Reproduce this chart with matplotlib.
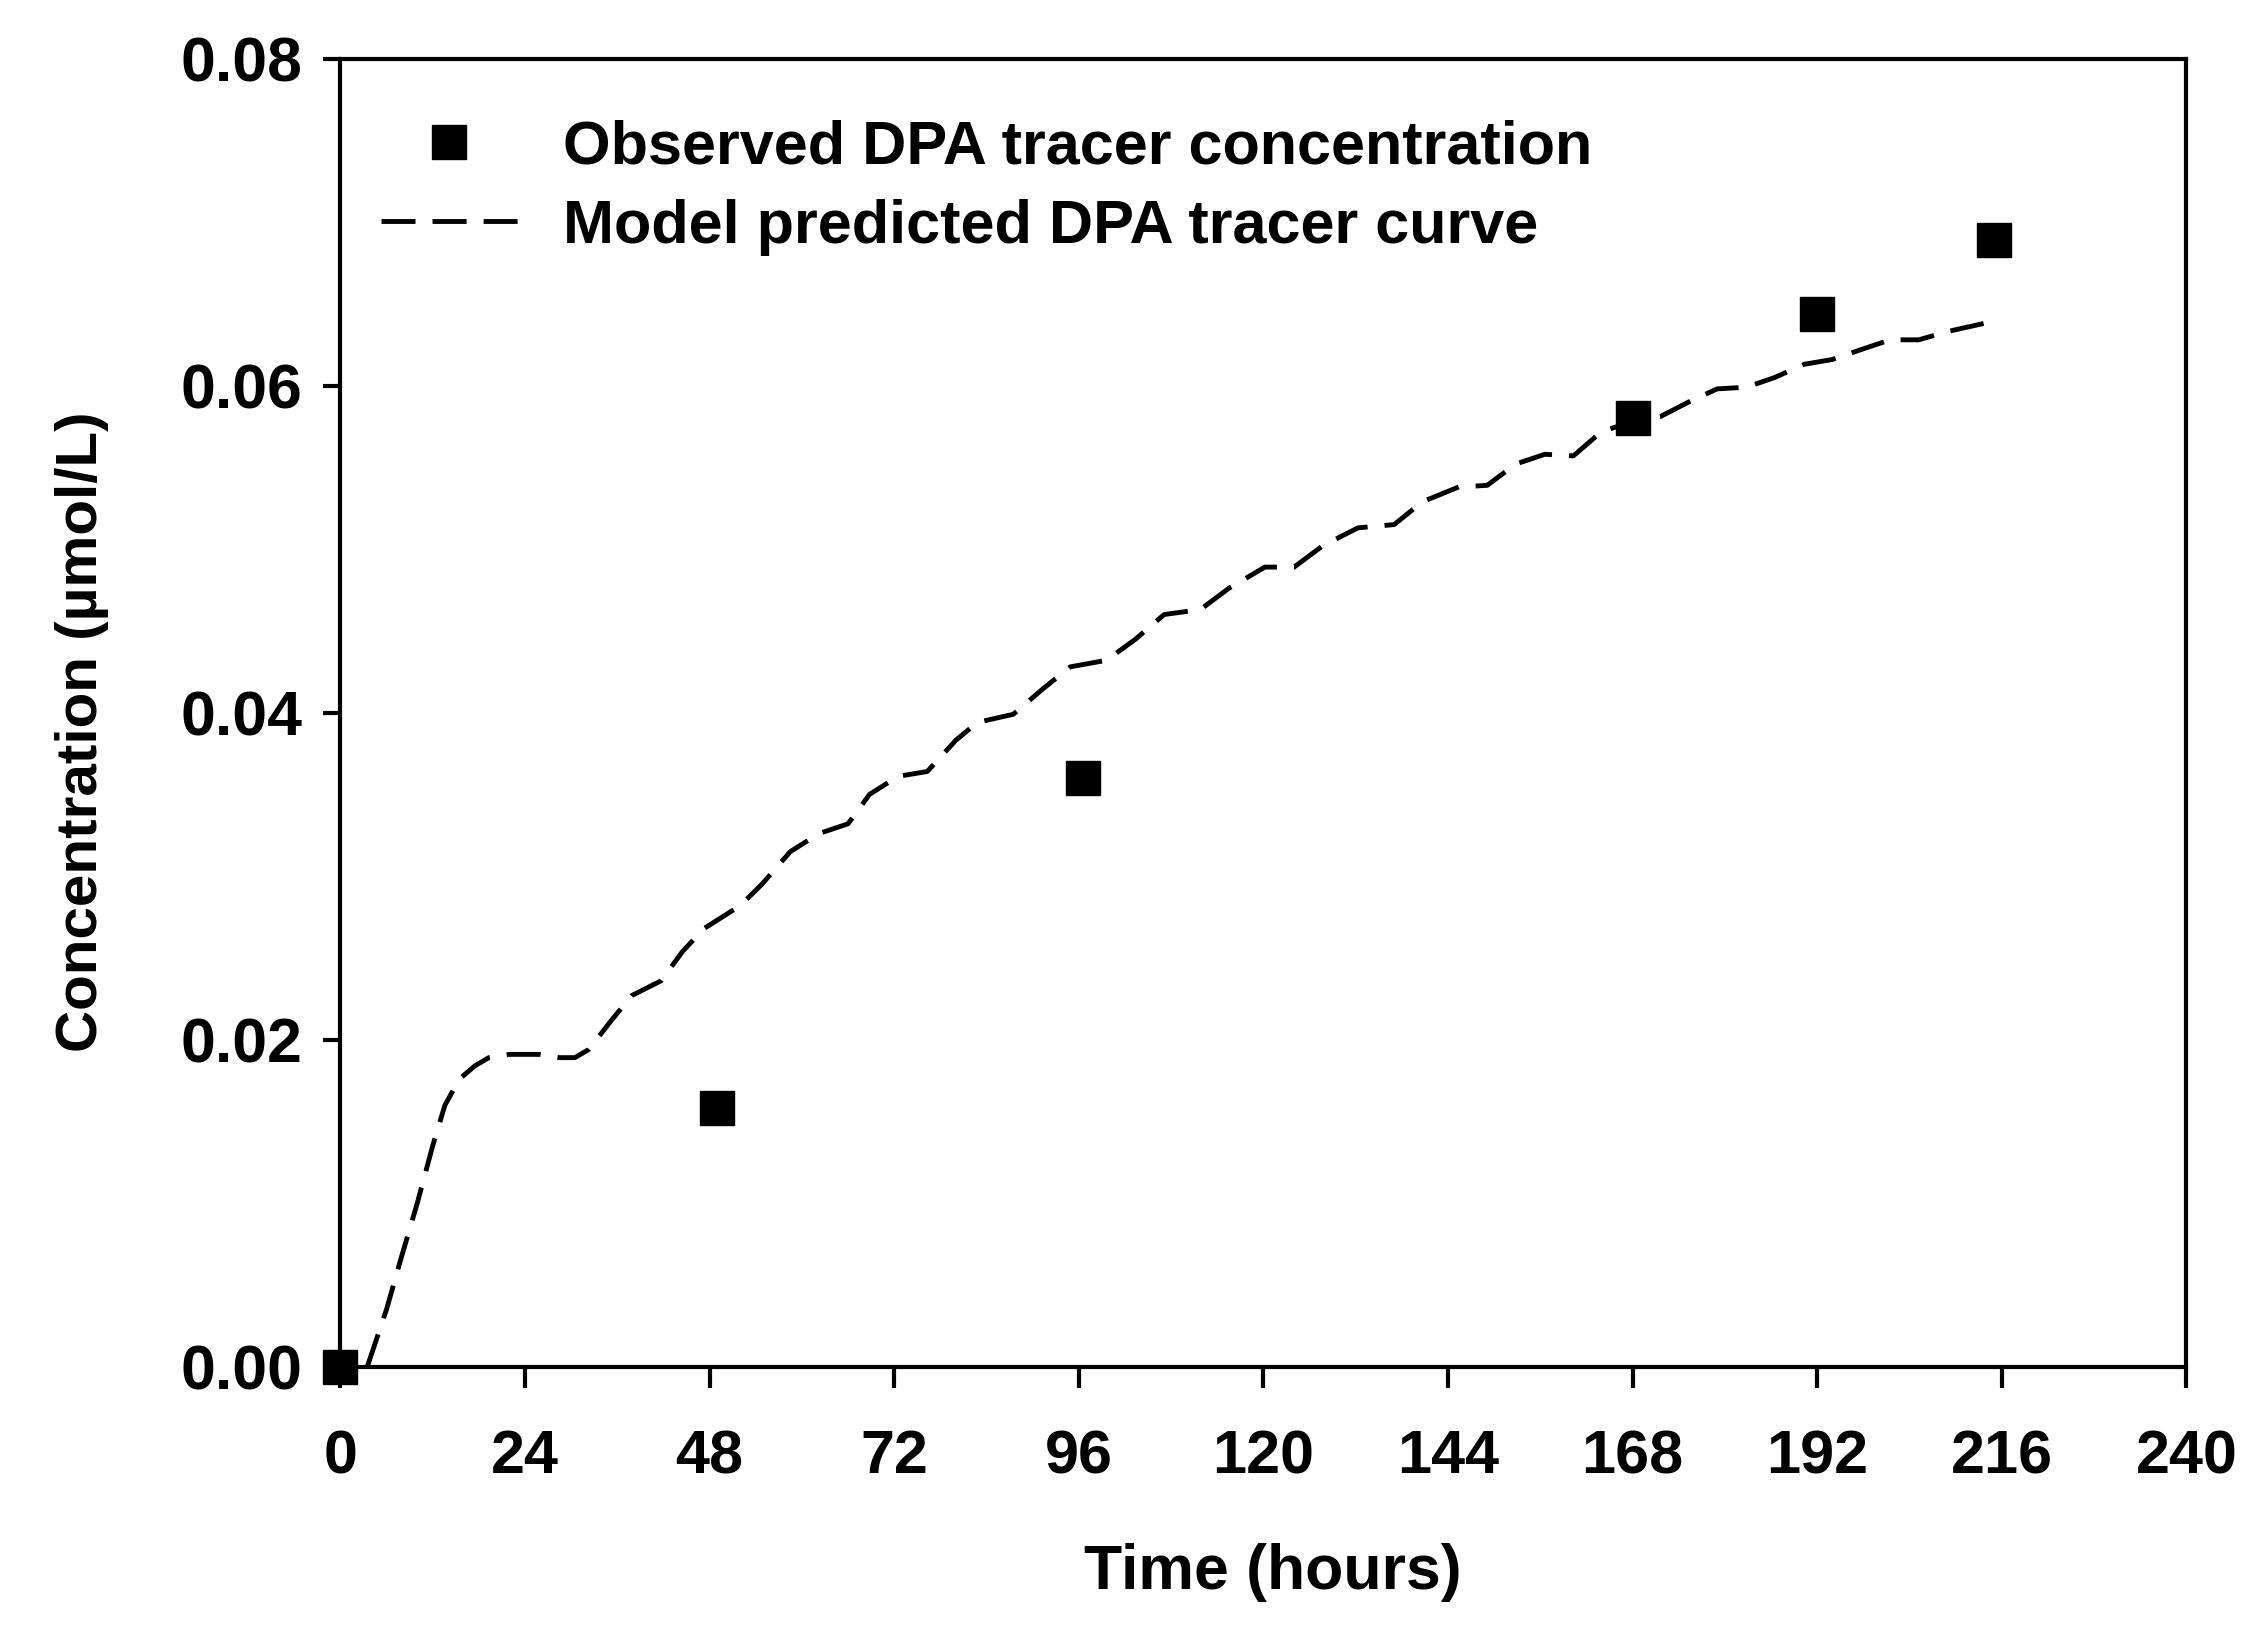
import matplotlib
matplotlib.use("Agg")
import matplotlib.pyplot as plt

plt.rcParams['font.family'] = ['Liberation Sans', 'DejaVu Sans']
plt.rcParams['font.weight'] = 'bold'

# observed tracer concentration
obs_t = [0, 49, 96.6, 168, 192, 215]
obs_c = [0.0, 0.0158, 0.0360, 0.0580, 0.0644, 0.0689]

# model predicted curve
mod_t = [3.5, 6, 8, 10, 12, 13.6, 15.5, 17.5, 19.3, 22, 25.8, 28.5, 30.5, 32.3, 35.1,
         37.9, 41.7, 44.5, 47.3, 52, 54.8, 58.5, 62.2, 66, 68.8, 72.5, 76.3, 80,
         82.8, 87.5, 91.2, 94.9, 99.6, 103.4, 107.1, 111.8, 115.5, 120.2, 124,
         127.7, 132.3, 137, 140.7, 145.4, 149.1, 152.8, 156.6, 160.3, 164, 168.8,
         171.6, 175.3, 179, 182.8, 186.5, 190.3, 194, 197.7, 201.5, 205.2, 208.9,
         212.7, 215.5]
mod_c = [0.0, 0.0035, 0.0068, 0.0100, 0.0135, 0.0160, 0.0176, 0.0184, 0.0189, 0.0191,
         0.0191, 0.0189, 0.0189, 0.0194, 0.0211, 0.0227, 0.0236, 0.0254, 0.0268,
         0.0282, 0.0295, 0.0315, 0.0326, 0.0332, 0.0350, 0.0361, 0.0364, 0.0383,
         0.0394, 0.0399, 0.0414, 0.0428, 0.0432, 0.0445, 0.0460, 0.0463, 0.0476,
         0.0489, 0.0489, 0.0502, 0.0513, 0.0515, 0.0529, 0.0538, 0.0539, 0.0552,
         0.0558, 0.0557, 0.0572, 0.0579, 0.0581, 0.0590, 0.0598, 0.0599, 0.0605,
         0.0613, 0.0616, 0.0622, 0.0628, 0.0628, 0.0633, 0.0637, 0.0640]

xticks = [0, 24, 48, 72, 96, 120, 144, 168, 192, 216, 240]
yticks = [0.0, 0.02, 0.04, 0.06, 0.08]

fig = plt.figure(figsize=(22.54, 16.27), dpi=100)
ax = fig.add_axes([0.151, 0.160, 0.819, 0.804])

ax.plot(obs_t, obs_c, 's', color='black', markersize=24,
        label='Observed DPA tracer concentration', clip_on=False, zorder=3)
ax.plot(mod_t, mod_c, color='black', lw=3.5, dashes=(7, 3.5),
        label='Model predicted DPA tracer curve')

ax.set_xlim(0, 240)
ax.set_ylim(0, 0.08)
ax.set_xticks(xticks)
ax.set_xticklabels([str(t) for t in xticks])
ax.set_yticks(yticks)
ax.set_yticklabels(['%.2f' % v for v in yticks])

for s in ax.spines.values():
    s.set_linewidth(3)
ax.tick_params(axis='x', direction='out', length=15, width=3, labelsize=44, pad=30)
ax.tick_params(axis='y', direction='out', length=12, width=3, labelsize=45, pad=15)
for lab in ax.get_xticklabels() + ax.get_yticklabels():
    lab.set_fontweight('bold')

ax.set_xlabel('Time (hours)', fontsize=45, fontweight='bold', va='center')
ax.xaxis.set_label_coords(0.505, -0.157)
ax.set_ylabel('Concentration (µmol/L)', fontsize=42, fontweight='bold', va='center')
ax.yaxis.set_label_coords(-0.14, 0.485)

leg = ax.legend(loc='upper left', bbox_to_anchor=(0.0086, 0.972), borderaxespad=0,
                frameon=False, fontsize=44, handlelength=2.24, handletextpad=0.75,
                labelspacing=0.36)
for t in leg.get_texts():
    t.set_fontweight('bold')

fig.savefig('out.png', dpi=100)
